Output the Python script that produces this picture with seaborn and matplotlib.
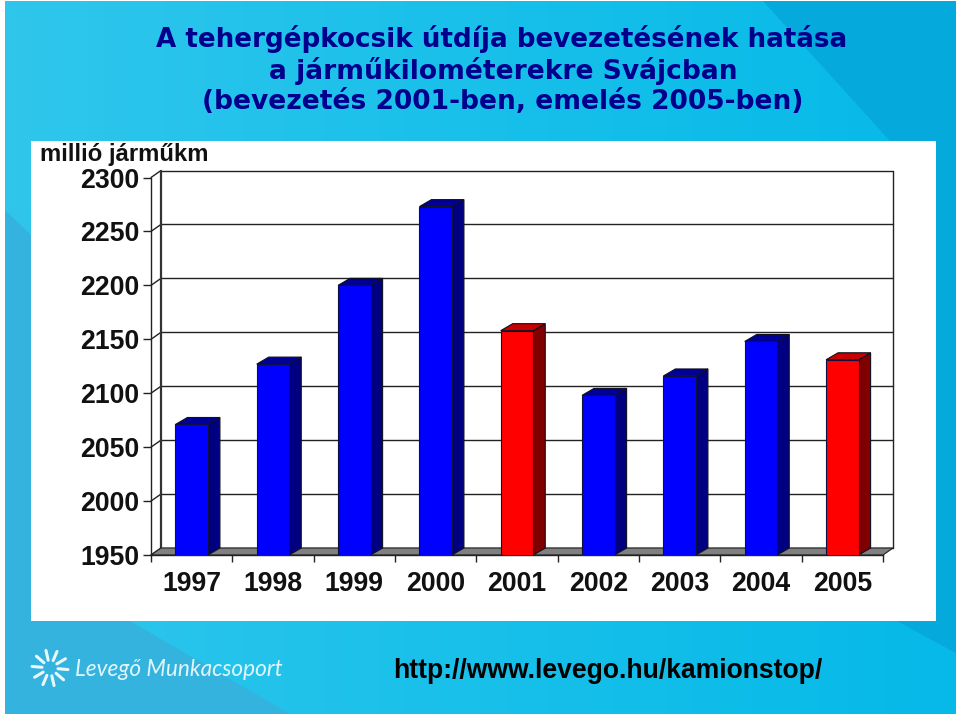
import numpy as np
import pandas as pd
import matplotlib
matplotlib.use("Agg")
import matplotlib.pyplot as plt
import matplotlib.transforms as mtrans
from matplotlib.colors import LinearSegmentedColormap
from matplotlib.patches import Polygon, Rectangle
import seaborn as sns

years = ["1997", "1998", "1999", "2000", "2001", "2002", "2003", "2004", "2005"]
values = [2071, 2127, 2200, 2273, 2158, 2098, 2116, 2148, 2131]
bar_kind = ["normal", "normal", "normal", "normal", "emeles", "normal", "normal", "normal", "emeles"]
y_ticks = [1950, 2000, 2050, 2100, 2150, 2200, 2250, 2300]
title_lines = ["A tehergépkocsik útdíja bevezetésének hatása",
               "a járműkilométerekre Svájcban",
               "(bevezetés 2001-ben, emelés 2005-ben)"]

W, H = 960, 716
WALL_DX, WALL_DY = 10, 7  # depth of the 3d box, pixels
BAR_DX, BAR_DY = 12, 7    # depth of the bars, pixels
LINE = "#222222"

sns.set_theme(style="white")
plt.rcParams["font.family"] = ["Liberation Sans", "DejaVu Sans"]

df = pd.DataFrame({"ev": years, "ertek": values, "fajta": bar_kind})

fig = plt.figure(figsize=(W / 100, H / 100), dpi=100, facecolor="white")

# ── slide background ─────────────────────────────────────
bg = fig.add_axes([0, 0, 1, 1])
cmap = LinearSegmentedColormap.from_list("slide", ["#30c6ec", "#18c0ea", "#06b9e8"])
bg.imshow(np.linspace(0, 1, 256).reshape(1, -1), cmap=cmap, extent=(5, 956, 714, 1), aspect="auto")
bg.set_xlim(0, W)
bg.set_ylim(H, 0)
bg.axis("off")
bg.add_patch(Polygon([(5, 210), (31, 235), (31, 621), (130, 621), (290, 714), (5, 714)], fc="#35b3df", ec="none"))
bg.add_patch(Polygon([(763, 1), (956, 1), (956, 653), (897, 621), (936, 621), (936, 141), (890, 141)],
                     fc="#05a9dc", ec="none"))
bg.add_patch(Rectangle((31, 141), 905, 480, fc="white", ec="none"))

# logo
cx, cy = 50, 668
for ang in np.arange(0, 360, 36) + 5:
    a = np.deg2rad(ang)
    bg.plot([cx + 8 * np.cos(a), cx + 18 * np.cos(a)], [cy + 8 * np.sin(a), cy + 18 * np.sin(a)],
            color="#e8f8fc", lw=2.2, solid_capstyle="round")
bg.text(75, 670, "Levegő Munkacsoport", color="#e0f6fb", fontsize=16.3, family="Lato",
        style="italic", va="center", ha="left")

# title
for line, yy, size, xx in zip(title_lines, [39, 71, 102], [18.8, 19.1, 19.1], [502, 503, 503]):
    bg.text(xx, yy, line, color="#00008c", fontsize=size, family="DejaVu Sans", fontweight="bold",
            ha="center", va="center")

bg.text(40, 154.5, "millió járműkm", color="#111111", fontsize=17.2, fontweight="bold", va="center", ha="left")
bg.text(607.5, 670.5, "http://www.levego.hu/kamionstop/", color="black", fontsize=19.1, fontweight="bold",
        va="center", ha="center")

# ── chart ────────────────────────────────────────────────
ax = fig.add_axes([151 / W, 1 - 555 / H, (883 - 151) / W, (555 - 177.5) / H])
ax.patch.set_alpha(0)

sns.barplot(data=df, x="ev", y="ertek", hue="fajta", dodge=False, legend=False, ax=ax,
            palette={"normal": "#0000ff", "emeles": "#ff0000"}, width=0.4, saturation=1,
            edgecolor="#101040", linewidth=0.8, zorder=4)
ax.set_xlim(-0.5, len(years) - 0.5)
ax.set_ylim(y_ticks[0], y_ticks[-1])
ax.set_yticks(y_ticks)
ax.set_xticks(np.arange(len(years) + 1) - 0.5)
ax.set_xticklabels([])
ax.set_xlabel("")
ax.set_ylabel("")
for s in ["top", "right"]:
    ax.spines[s].set_visible(False)
for s in ["left", "bottom"]:
    ax.spines[s].set_color(LINE)
    ax.spines[s].set_linewidth(1.0)
ax.tick_params(axis="y", left=True, length=6, width=1.0, color=LINE, labelsize=19.2, pad=2.5)
ax.tick_params(axis="x", bottom=True, length=4.7, width=1.0, color=LINE)
for lab in ax.get_yticklabels():
    lab.set_fontweight("bold")
    lab.set_color("#111111")
    lab.set_y(lab.get_position()[1])

# year labels sit centred under each slot
for i, yr in enumerate(years):
    ax.annotate(yr, (i, y_ticks[0]), xytext=(0, -21), textcoords="offset points", fontsize=19.2,
                fontweight="bold", color="#111111", ha="center", va="center", annotation_clip=False)

back = ax.transData + mtrans.ScaledTranslation(WALL_DX / 100, WALL_DY / 100, fig.dpi_scale_trans)
x0, x1 = ax.get_xlim()
y0, y1 = ax.get_ylim()

# back wall, gridlines and the short joins to the front axis
for t in y_ticks:
    ax.plot([x0, x1], [t, t], transform=back, color=LINE, lw=1.0, zorder=1, clip_on=False)
    p0 = ax.transData.transform((x0, t))
    ax.add_line(plt.Line2D([p0[0], p0[0] + WALL_DX], [p0[1], p0[1] + WALL_DY], transform=None, color=LINE,
                           lw=1.0, zorder=1, clip_on=False))
ax.plot([x0, x0], [y0, y1], transform=back, color="#333333", lw=1.6, zorder=1, clip_on=False)
ax.plot([x1, x1], [y0, y1], transform=back, color=LINE, lw=1.0, zorder=1, clip_on=False)

# floor
pf = ax.transData.transform([(x0, y0), (x1, y0)])
floor_off = (WALL_DX, WALL_DY)
ax.add_patch(Polygon([pf[0], pf[1], pf[1] + floor_off, pf[0] + floor_off], closed=True, transform=None,
                     fc="#808080", ec=LINE, lw=0.8, zorder=2, clip_on=False))

# bar side and top faces, built on the bars seaborn drew
shades = {"normal": ("#000080", "#000099"), "emeles": ("#800000", "#c80000")}
bars = sorted([p for p in ax.patches if isinstance(p, Rectangle) and p.get_height() > 0], key=lambda p: p.get_x())
for bar, fajta in zip(bars, bar_kind):
    side, top = shades[fajta]
    a = ax.transData.transform((bar.get_x(), y0))
    b = ax.transData.transform((bar.get_x() + bar.get_width(), bar.get_height()))
    ax.add_patch(Polygon([(b[0], a[1]), (b[0] + BAR_DX, a[1] + BAR_DY), (b[0] + BAR_DX, b[1] + BAR_DY), (b[0], b[1])],
                         transform=None, fc=side, ec="#101020", lw=0.8, zorder=3, clip_on=False))
    ax.add_patch(Polygon([(a[0], b[1]), (a[0] + BAR_DX, b[1] + BAR_DY), (b[0] + BAR_DX, b[1] + BAR_DY), (b[0], b[1])],
                         transform=None, fc=top, ec="#101020", lw=0.8, zorder=3, clip_on=False))

fig.savefig("out.png", dpi=100)
